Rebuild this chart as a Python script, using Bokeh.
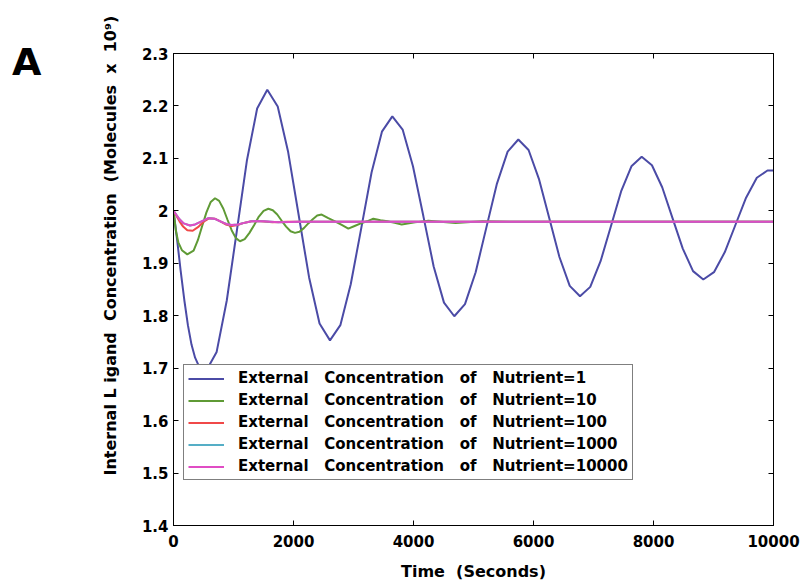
from bokeh.plotting import figure
from bokeh.models import (Range1d, FixedTicker, LinearAxis, Legend, LegendItem, Title,
                          CustomJSTickFormatter, BasicTickFormatter)
from bokeh.embed import file_html
from bokeh.resources import INLINE

# ---------------- data ----------------
T_BLUE = [0, 60, 120, 180, 240, 300, 360, 420, 480, 550, 719, 888, 1057, 1225, 1394, 1563,
          1737, 1911, 2086, 2260, 2434, 2608, 2781, 2954, 3128, 3301, 3474, 3647,
          3819, 3991, 4164, 4336, 4508, 4680, 4858, 5036, 5214, 5391, 5569, 5747,
          5918, 6090, 6261, 6432, 6604, 6775, 6946, 7118, 7289, 7460, 7632, 7803,
          7974, 8145, 8317, 8488, 8659, 8830, 9008, 9187, 9365, 9543, 9722, 9900, 10000]
Y_BLUE = [2.000, 1.945, 1.885, 1.830, 1.782, 1.745, 1.720, 1.705, 1.698, 1.696, 1.731, 1.829,
          1.963, 2.097, 2.195, 2.231, 2.199, 2.112, 1.992, 1.873, 1.785, 1.753, 1.782, 1.860,
          1.966, 2.073, 2.151, 2.180, 2.155, 2.085, 1.990, 1.894, 1.825, 1.799, 1.822, 1.883,
          1.968, 2.052, 2.113, 2.136, 2.116, 2.061, 1.987, 1.912, 1.857, 1.837, 1.855, 1.904,
          1.970, 2.037, 2.085, 2.103, 2.087, 2.045, 1.986, 1.928, 1.885, 1.869, 1.883, 1.921,
          1.973, 2.025, 2.063, 2.077, 2.077]

T_GREEN = [0, 40, 80, 140, 230, 335, 406, 478, 549, 621, 692, 761, 831, 900, 969, 1039, 1108,
           1187, 1266, 1345, 1423, 1502, 1581, 1655, 1729, 1803, 1877, 1951, 2025,
           2099, 2173, 2247, 2321, 2395, 2469, 2580, 2692, 2803, 2914, 3018, 3122, 3227, 3331,
           3449, 3567, 3685, 3803, 4025, 4247, 4700, 5150, 5600, 10000]
Y_GREEN = [2.000, 1.962, 1.940, 1.925, 1.917, 1.924, 1.944, 1.971, 1.997, 2.017, 2.024, 2.019,
           2.004, 1.983, 1.963, 1.948, 1.942, 1.946, 1.958, 1.973, 1.989, 2.000, 2.004, 2.001,
           1.993, 1.981, 1.970, 1.961, 1.958, 1.960, 1.967, 1.976, 1.984, 1.991, 1.993, 1.986,
           1.980, 1.973, 1.966, 1.971, 1.976, 1.980, 1.985, 1.982, 1.980, 1.977, 1.974, 1.978,
           1.981, 1.977, 1.980, 1.979, 1.979]

T_RED = [0, 50, 100, 160, 230, 320, 420, 510, 600, 690, 780, 870, 970, 1070, 1170, 1300, 1450,
         1650, 1900, 2300, 10000]
Y_RED = [2.000, 1.990, 1.980, 1.970, 1.963, 1.962, 1.970, 1.980, 1.986, 1.985, 1.980, 1.974,
         1.971, 1.973, 1.977, 1.980, 1.980, 1.978, 1.979, 1.979, 1.979]

T_CYAN = [0, 50, 100, 170, 275, 360, 450, 580, 680, 780, 880, 970, 1070, 1180, 1300, 1500,
          1750, 2100, 10000]
Y_CYAN = [2.000, 1.992, 1.984, 1.976, 1.972, 1.974, 1.979, 1.986, 1.985, 1.980, 1.975, 1.973,
          1.974, 1.977, 1.980, 1.980, 1.978, 1.979, 1.979]

T_PINK = [0, 50, 100, 170, 275, 360, 450, 580, 680, 780, 880, 970, 1070, 1180, 1300, 1500,
          1750, 2100, 10000]
Y_PINK = [2.000, 1.992, 1.984, 1.976, 1.972, 1.974, 1.979, 1.986, 1.985, 1.980, 1.975, 1.973,
          1.974, 1.977, 1.980, 1.980, 1.978, 1.979, 1.979]

SERIES_LABELS = ["External   Concentration   of   Nutrient=1",
                 "External   Concentration   of   Nutrient=10",
                 "External   Concentration   of   Nutrient=100",
                 "External   Concentration   of   Nutrient=1000",
                 "External   Concentration   of   Nutrient=10000"]
COLORS = ["#4b4ba6", "#5f9a35", "#f04848", "#55aec6", "#e04cc4"]

X_TICKS = [0, 2000, 4000, 6000, 8000, 10000]
Y_TICKS = [1.4, 1.5, 1.6, 1.7, 1.8, 1.9, 2.0, 2.1, 2.2, 2.3]
X_LABEL = "Time  (Seconds)"
Y_LABEL = "Internal L igand  Concentration  (Molecules  x  10\u2079)"
PANEL = "A"

NB = lambda s: s.replace(" ", "\u00a0")
FONT = "DejaVu Sans"

p = figure(width=800, height=587, output_backend="svg", toolbar_location=None,
           x_range=Range1d(0, 10000), y_range=Range1d(1.4, 2.3),
           min_border_left=173, min_border_right=27, min_border_top=53, min_border_bottom=62)
p.background_fill_color = "white"
p.border_fill_color = "white"
p.outline_line_color = "black"
p.outline_line_width = 1
p.xgrid.visible = False
p.ygrid.visible = False

# panel letter as the plot title, pulled to the left edge
p.title.text = PANEL
p.title.align = "left"
p.title.offset = -161.5
p.title.standoff = -60
p.title.text_font = FONT
p.title.text_font_style = "bold"
p.title.text_font_size = "38px"
p.title.text_color = "black"

# main axes
xa = p.xaxis[0]
ya = p.yaxis[0]
xa.ticker = FixedTicker(ticks=X_TICKS)
ya.ticker = FixedTicker(ticks=Y_TICKS)
xa.formatter = BasicTickFormatter(use_scientific=False)
ya.formatter = CustomJSTickFormatter(code="return (Math.round(tick*10)/10).toString();")
for ax in (xa, ya):
    ax.major_tick_in = 5
    ax.major_tick_out = 0
    ax.minor_tick_line_color = None
    ax.axis_line_color = "black"
    ax.major_tick_line_color = "black"
    ax.major_label_text_font = FONT
    ax.major_label_text_font_style = "bold"
    ax.major_label_text_font_size = "15px"
    ax.major_label_text_color = "black"
xa.major_label_standoff = 9
ya.major_label_standoff = 5
xa.axis_label = NB(X_LABEL)
xa.axis_label_text_font = FONT
xa.axis_label_text_font_style = "bold"
xa.axis_label_text_font_size = "16px"
xa.axis_label_text_color = "black"
xa.axis_label_standoff = 12

# y label as a side title so it can sit off-centre like the reference
ytitle = Title(text=NB(Y_LABEL), align="left", offset=50, standoff=38,
               vertical_align="bottom", text_font=FONT, text_font_style="bold",
               text_font_size="16px", text_color="black")
p.add_layout(ytitle, "left")

# box ticks on top and right
top = LinearAxis(ticker=FixedTicker(ticks=X_TICKS),
                 major_label_overrides={t: "" for t in X_TICKS})
right = LinearAxis(ticker=FixedTicker(ticks=Y_TICKS),
                   major_label_overrides={t: "" for t in Y_TICKS})
for ax in (top, right):
    ax.major_tick_in = 5
    ax.major_tick_out = 0
    ax.minor_tick_line_color = None
    ax.major_label_standoff = 0
    ax.major_label_text_font_size = "1px"
p.add_layout(top, "above")
p.add_layout(right, "right")

# lines
renderers = []
for t, y, c in [(T_BLUE, Y_BLUE, COLORS[0]), (T_GREEN, Y_GREEN, COLORS[1]),
                (T_RED, Y_RED, COLORS[2]), (T_CYAN, Y_CYAN, COLORS[3]),
                (T_PINK, Y_PINK, COLORS[4])]:
    renderers.append(p.line(t, y, line_color=c, line_width=2))

legend = Legend(items=[LegendItem(label=NB(lab), renderers=[r])
                       for lab, r in zip(SERIES_LABELS, renderers)],
                location=(10, 45))
legend.border_line_color = "black"
legend.border_line_width = 1
legend.background_fill_color = "white"
legend.background_fill_alpha = 1
legend.label_text_font = FONT
legend.label_text_font_style = "bold"
legend.label_text_font_size = "15px"
legend.label_text_color = "black"
legend.label_height = 17
legend.glyph_height = 17
legend.glyph_width = 36
legend.label_standoff = 14
legend.spacing = 4
legend.padding = 4
legend.margin = 0
p.add_layout(legend)

open("out.html", "w").write(file_html(p, INLINE))
